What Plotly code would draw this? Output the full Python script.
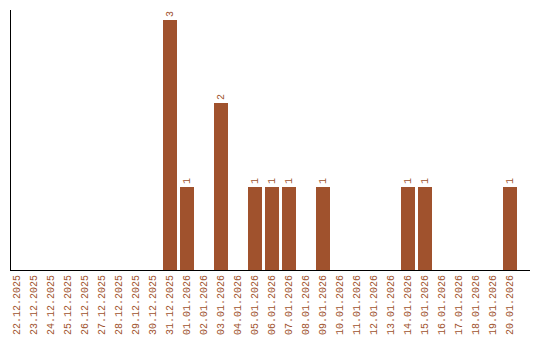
import plotly.graph_objects as go

dates = ["22.12.2025", "23.12.2025", "24.12.2025", "25.12.2025", "26.12.2025",
         "27.12.2025", "28.12.2025", "29.12.2025", "30.12.2025", "31.12.2025",
         "01.01.2026", "02.01.2026", "03.01.2026", "04.01.2026", "05.01.2026",
         "06.01.2026", "07.01.2026", "08.01.2026", "09.01.2026", "10.01.2026",
         "11.01.2026", "12.01.2026", "13.01.2026", "14.01.2026", "15.01.2026",
         "16.01.2026", "17.01.2026", "18.01.2026", "19.01.2026", "20.01.2026"]
counts = [0, 0, 0, 0, 0, 0, 0, 0, 0, 3,
          1, 0, 2, 0, 1, 1, 1, 0, 1, 0,
          0, 0, 0, 1, 1, 0, 0, 0, 0, 1]

color = "#A0522D"
labels = [str(v) if v > 0 else "" for v in counts]

fig = go.Figure(go.Bar(
    x=list(range(len(dates))), y=counts,
    marker=dict(color=color, line=dict(width=0)),
    width=14/17,
    text=labels, textposition="outside", textangle=-90,
    textfont=dict(family="Liberation Mono", size=10, color=color),
    cliponaxis=False,
))

fig.update_layout(
    width=540, height=340,
    margin=dict(l=11, r=10, t=10, b=70, autoexpand=False),
    paper_bgcolor="white", plot_bgcolor="white",
    showlegend=False,
    bargap=0,
)
fig.update_xaxes(
    tickmode="array", tickvals=list(range(len(dates))), ticktext=dates,
    tickangle=-90, range=[-0.353, 30.18], automargin=False,
    tickfont=dict(family="Liberation Mono", size=10, color=color),
    showline=True, linecolor="black", linewidth=1,
    showgrid=False, zeroline=False, ticks="",
)
fig.update_yaxes(
    range=[0, 3.12], showticklabels=False, showgrid=False, zeroline=False,
    showline=True, linecolor="black", linewidth=1, ticks="", automargin=False,
)

fig.write_html("out.html")
